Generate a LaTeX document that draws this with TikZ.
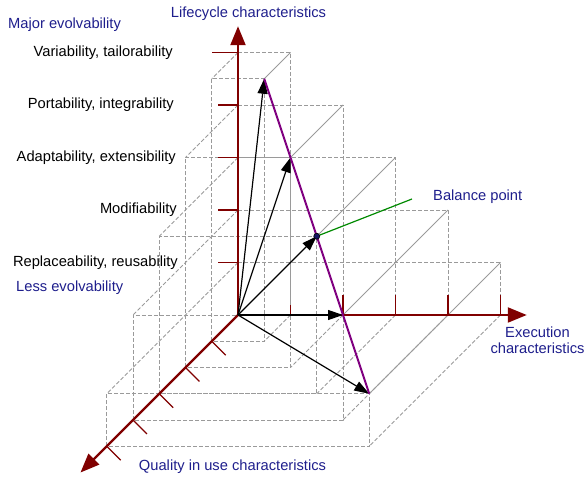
\documentclass[tikz,border=0pt]{standalone}
\usepackage{fontspec}
\setmainfont{Liberation Sans}
\usetikzlibrary{arrows.meta}
\definecolor{evred}{HTML}{800000}
\definecolor{evblue}{HTML}{1E1E8C}
\definecolor{evpurple}{HTML}{800080}
\definecolor{evgreen}{HTML}{008A00}
\definecolor{evgrid}{HTML}{9A9A9A}
\newcommand\evfont{\fontsize{14.7pt}{16.5pt}\selectfont}

\begin{document}
\begin{tikzpicture}[x={(52.5pt,0pt)}, y={(0pt,52.5pt)}, z={(-26.25pt,-26.25pt)},
  gridline/.style={evgrid, line width=0.8pt, dash pattern=on 4pt off 2pt},
  gridsolid/.style={evgrid, line width=0.8pt},
  axis/.style={evred, line width=2.2pt, -{Triangle[length=19pt,width=15pt]}},
  axtick/.style={evred, line width=1.2pt},
  vec/.style={black, line width=1.2pt, -{Triangle[length=15pt,width=10pt]}},
  axlabel/.style={text=evblue, font=\evfont, inner sep=0pt},
  lvlabel/.style={text=black, font=\evfont, inner sep=0pt, anchor=east}]
  \useasboundingbox (-238pt,-163pt) rectangle (348pt,315pt);
  \coordinate (O) at (0,0,0);
  % Boxes
  \foreach \x/\y/\z in {1/5/1, 2/4/2, 3/3/3, 4/2/4, 5/1/5}{
    \coordinate (p\x) at (\x,\y,\z);
    \draw[gridline] (0,\y,0) -- (\x,\y,0) -- (\x,0,0);
    \draw[gridline] (0,0,\z) -- (0,\y,\z) -- (\x,\y,\z) -- (\x,0,\z) -- cycle;
    \draw[gridline] (0,\y,0) -- (0,\y,\z) (\x,0,0) -- (\x,0,\z);
    \draw[gridsolid] (\x,\y,0) -- (\x,\y,\z);
  }
  % Axes
  \draw[axis] (O) -- (0,5.5,0);
  \draw[axis] (O) -- (5.5,0,0);
  \draw[axis] (O) -- (0,0,6);
  \foreach \i/\len in {1/10, 2/20, 3/20, 4/20, 5/20}{
    \draw[axtick] (0,\i,0) -- ++(-20pt,0);
    \draw[axtick] (\i,0,0) -- ++(0,\len pt);
    \draw[axtick] (0,0,\i) -- ++(14pt,-14pt);
  }
  \draw[axtick] (0,5,0) -- ++(-26pt,0);
  % Vectors
  \foreach \k in {1,...,5}
    \draw[vec] (O) -- (p\k);
  \draw[evpurple, line width=2pt] (p1) -- (p5);
  % Balance point
  \node[circle, fill=evblue!70!black, draw=black, line width=0.6pt, inner sep=0pt, minimum size=6pt] (bal) at (p3) {};
  \node[axlabel, anchor=west] (balance) at (195pt,118pt) {Balance point};
  \coordinate (balend) at (174pt,116pt);
  \draw[evgreen, line width=1.2pt] (bal) -- (balend);
  % Labels
  \node[axlabel] (lifecycle) at (10.5pt,301pt) {Lifecycle characteristics};
  \node[axlabel, anchor=west] (major) at (-230pt,290pt) {Major evolvability};
  \node[axlabel, anchor=west] (less) at (-222pt,27pt) {Less evolvability};
  \node[axlabel, align=center] (execution) at (299.5pt,-25pt) {Execution\\characteristics};
  \node[axlabel] (quality) at (-5.5pt,-152pt) {Quality in use characteristics};
  \foreach \i/\dx/\txt in {5/-65/{Variability, tailorability}, 4/-64/{Portability, integrability},
      3/-62/{Adaptability, extensibility}, 2/-61/{Modifiability}, 1/-60/{Replaceability, reusability}}
    \node[lvlabel] (lv\i) at ([xshift=\dx pt]0,\i,0) {\txt};
\end{tikzpicture}
\end{document}
